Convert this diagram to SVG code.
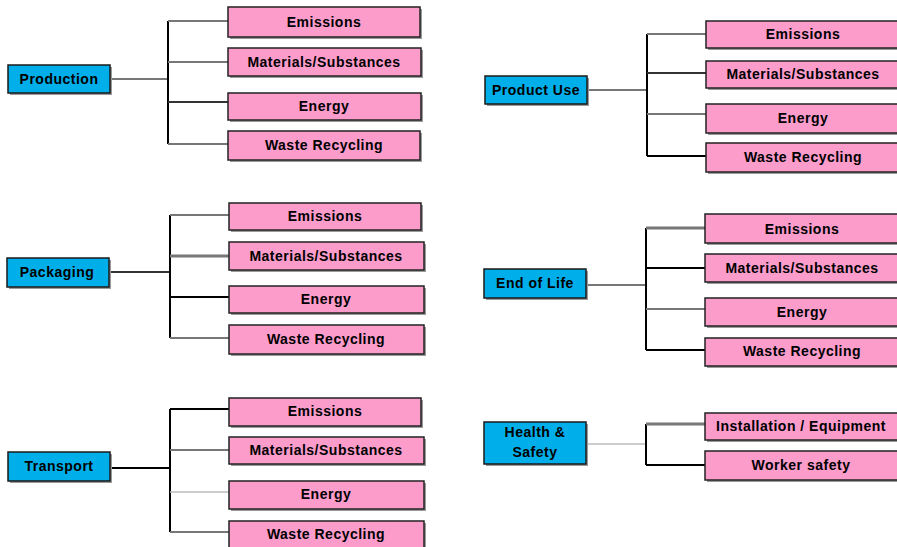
<svg xmlns="http://www.w3.org/2000/svg" width="897" height="547" viewBox="0 0 897 547">
<style>
.root{fill:#00aeea;stroke:#1a1a1a;stroke-width:1.5}
.leaf{fill:#fb9ccb;stroke:#222;stroke-width:1.5}
.sh{fill:#9a9a9a}
text{font-family:"Liberation Sans",Arial,sans-serif;font-weight:bold;font-size:14px;letter-spacing:0.5px;text-anchor:middle;fill:#000}
.k{stroke:#000;stroke-width:2;fill:none}
.d{stroke:#333;stroke-width:2;fill:none}
.g{stroke:#777;stroke-width:2;fill:none}
.gt{stroke:#777;stroke-width:3;fill:none}
.l{stroke:#bbb;stroke-width:1.5;fill:none}
</style>
<rect width="897" height="547" fill="#fff"/>
<g id="connectors">
<!-- Production -->
<path class="g" d="M110 79H168"/>
<path class="k" d="M168 21V144"/>
<path class="g" d="M168 21H228"/>
<path class="g" d="M168 62H228"/>
<path class="d" d="M168 102H228"/>
<path class="g" d="M168 144H228"/>
<!-- Product Use -->
<path class="g" d="M587 90H647"/>
<path class="k" d="M647 34V156"/>
<path class="g" d="M647 34H706"/>
<path class="d" d="M647 73H706"/>
<path class="g" d="M647 114H706"/>
<path class="k" d="M647 156H706"/>
<!-- Packaging -->
<path class="d" d="M109 272H170"/>
<path class="k" d="M170 215V338"/>
<path class="g" d="M170 215H229"/>
<path class="gt" d="M170 256H229"/>
<path class="k" d="M170 297H229"/>
<path class="g" d="M170 338H229"/>
<!-- Transport -->
<path class="k" d="M110 468H170"/>
<path class="k" d="M170 409V532"/>
<path class="k" d="M170 409H229"/>
<path class="g" d="M170 450H229"/>
<path class="l" d="M170 492H229"/>
<path class="g" d="M170 532H229"/>
<!-- End of Life -->
<path class="g" d="M586 285H646"/>
<path class="k" d="M646 228V350"/>
<path class="gt" d="M646 228H705"/>
<path class="k" d="M646 268H705"/>
<path class="g" d="M646 309H705"/>
<path class="k" d="M646 350H705"/>
<!-- Health & Safety -->
<path class="l" d="M586 444H646"/>
<path class="k" d="M646 424V465"/>
<path class="gt" d="M646 424H705"/>
<path class="k" d="M646 465H705"/>
</g>

<g id="production">
<rect class="sh" x="10" y="67" width="102" height="28"/>
<rect class="root" x="8" y="65" width="102" height="28"/>
<text x="59" y="84">Production</text>
</g>
<g id="production-emissions">
<rect class="sh" x="230" y="9" width="192" height="30"/>
<rect class="leaf" x="228" y="7" width="192" height="30"/>
<text x="324" y="27">Emissions</text>
</g>
<g id="production-materials">
<rect class="sh" x="230" y="50" width="193" height="28"/>
<rect class="leaf" x="228" y="48" width="193" height="28"/>
<text x="324" y="67">Materials/Substances</text>
</g>
<g id="production-energy">
<rect class="sh" x="230" y="95" width="193" height="27"/>
<rect class="leaf" x="228" y="93" width="193" height="27"/>
<text x="324" y="111">Energy</text>
</g>
<g id="production-waste">
<rect class="sh" x="230" y="133" width="192" height="29"/>
<rect class="leaf" x="228" y="131" width="192" height="29"/>
<text x="324" y="150">Waste Recycling</text>
</g>

<g id="product-use">
<rect class="sh" x="487" y="78" width="102" height="28"/>
<rect class="root" x="485" y="76" width="102" height="28"/>
<text x="536" y="95">Product Use</text>
</g>
<g id="use-emissions">
<rect class="sh" x="708" y="23" width="194" height="27"/>
<rect class="leaf" x="706" y="21" width="194" height="27"/>
<text x="803" y="39">Emissions</text>
</g>
<g id="use-materials">
<rect class="sh" x="708" y="63" width="194" height="27"/>
<rect class="leaf" x="706" y="61" width="194" height="27"/>
<text x="803" y="79">Materials/Substances</text>
</g>
<g id="use-energy">
<rect class="sh" x="708" y="106" width="194" height="29"/>
<rect class="leaf" x="706" y="104" width="194" height="29"/>
<text x="803" y="123">Energy</text>
</g>
<g id="use-waste">
<rect class="sh" x="708" y="145" width="194" height="29"/>
<rect class="leaf" x="706" y="143" width="194" height="29"/>
<text x="803" y="162">Waste Recycling</text>
</g>

<g id="packaging">
<rect class="sh" x="9" y="260" width="102" height="29"/>
<rect class="root" x="7" y="258" width="102" height="29"/>
<text x="57" y="277">Packaging</text>
</g>
<g id="packaging-emissions">
<rect class="sh" x="231" y="205" width="192" height="27"/>
<rect class="leaf" x="229" y="203" width="192" height="27"/>
<text x="325" y="221">Emissions</text>
</g>
<g id="packaging-materials">
<rect class="sh" x="231" y="244" width="195" height="28"/>
<rect class="leaf" x="229" y="242" width="195" height="28"/>
<text x="326" y="261">Materials/Substances</text>
</g>
<g id="packaging-energy">
<rect class="sh" x="231" y="288" width="195" height="27"/>
<rect class="leaf" x="229" y="286" width="195" height="27"/>
<text x="326" y="304">Energy</text>
</g>
<g id="packaging-waste">
<rect class="sh" x="231" y="327" width="195" height="29"/>
<rect class="leaf" x="229" y="325" width="195" height="29"/>
<text x="326" y="344">Waste Recycling</text>
</g>

<g id="transport">
<rect class="sh" x="10" y="454" width="102" height="29"/>
<rect class="root" x="8" y="452" width="102" height="29"/>
<text x="59" y="471">Transport</text>
</g>
<g id="transport-emissions">
<rect class="sh" x="231" y="400" width="192" height="28"/>
<rect class="leaf" x="229" y="398" width="192" height="28"/>
<text x="325" y="416">Emissions</text>
</g>
<g id="transport-materials">
<rect class="sh" x="231" y="439" width="195" height="27"/>
<rect class="leaf" x="229" y="437" width="195" height="27"/>
<text x="326" y="455">Materials/Substances</text>
</g>
<g id="transport-energy">
<rect class="sh" x="231" y="483" width="195" height="28"/>
<rect class="leaf" x="229" y="481" width="195" height="28"/>
<text x="326" y="499">Energy</text>
</g>
<g id="transport-waste">
<rect class="sh" x="231" y="523" width="195" height="30"/>
<rect class="leaf" x="229" y="521" width="195" height="30"/>
<text x="326" y="539">Waste Recycling</text>
</g>

<g id="end-of-life">
<rect class="sh" x="486" y="271" width="102" height="29"/>
<rect class="root" x="484" y="269" width="102" height="29"/>
<text x="535" y="288">End of Life</text>
</g>
<g id="eol-emissions">
<rect class="sh" x="707" y="216" width="194" height="29"/>
<rect class="leaf" x="705" y="214" width="194" height="29"/>
<text x="802" y="234">Emissions</text>
</g>
<g id="eol-materials">
<rect class="sh" x="707" y="256" width="194" height="28"/>
<rect class="leaf" x="705" y="254" width="194" height="28"/>
<text x="802" y="273">Materials/Substances</text>
</g>
<g id="eol-energy">
<rect class="sh" x="707" y="300" width="194" height="28"/>
<rect class="leaf" x="705" y="298" width="194" height="28"/>
<text x="802" y="317">Energy</text>
</g>
<g id="eol-waste">
<rect class="sh" x="707" y="340" width="194" height="28"/>
<rect class="leaf" x="705" y="338" width="194" height="28"/>
<text x="802" y="356">Waste Recycling</text>
</g>

<g id="health-safety">
<rect class="sh" x="486" y="424" width="102" height="42"/>
<rect class="root" x="484" y="422" width="102" height="42"/>
<text x="535" y="437">Health &amp;</text>
<text x="535" y="457">Safety</text>
</g>
<g id="hs-installation">
<rect class="sh" x="707" y="415" width="194" height="27"/>
<rect class="leaf" x="705" y="413" width="194" height="27"/>
<text x="801" y="431">Installation / Equipment</text>
</g>
<g id="hs-worker">
<rect class="sh" x="707" y="453" width="194" height="29"/>
<rect class="leaf" x="705" y="451" width="194" height="29"/>
<text x="801" y="470">Worker safety</text>
</g>
</svg>
